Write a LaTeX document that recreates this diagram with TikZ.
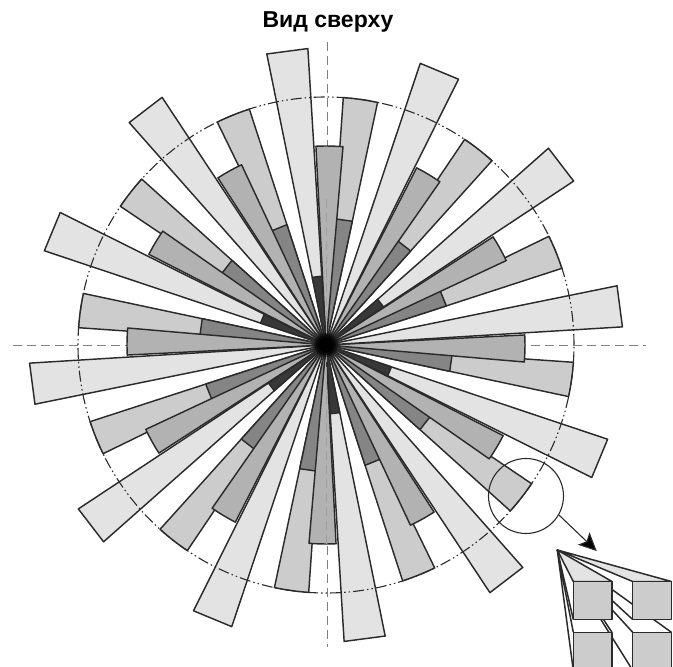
\documentclass[tikz,border=0pt]{standalone}
\usepackage{fontspec}
\setmainfont{Liberation Sans}
\usetikzlibrary{arrows.meta}
\definecolor{lightgr}{gray}{0.89}
\definecolor{midgr}{gray}{0.80}
\definecolor{shortgr}{gray}{0.70}
\definecolor{innergr}{gray}{0.52}
\definecolor{darkgr}{gray}{0.22}
\definecolor{edgegr}{gray}{0.17}
\begin{document}
\begin{tikzpicture}[x=1pt, y=1pt, blade/.style={draw=edgegr, line width=1.45pt, line join=round},
axis line/.style={draw=gray, line width=0.8pt, dash pattern=on 9pt off 5pt},
ring line/.style={draw=edgegr, line width=1.1pt, dash pattern=on 11pt off 3pt on 1.5pt off 3pt on 1.5pt off 3pt},
box side/.style={draw=edgegr, line width=1.5pt, line join=round},
main node/.style={circle, draw=edgegr, line width=1.1pt, minimum size=75pt, inner sep=0pt}]
\useasboundingbox (-326,-322) rectangle (347,345);
\clip (-326,-322) rectangle (347,345);
% axes go under the blades
\coordinate (west) at (-313,0);
\coordinate (east) at (320,0);
\coordinate (north) at (1,303);
\coordinate (south) at (1,-302);
\draw[axis line] (west) -- (east);
\draw[axis line] (north) -- (south);
% blades, 12 sets
\foreach \k in {0,...,11}{
  \pgfmathsetmacro{\am}{82-30*\k}
  \draw[blade, fill=midgr] (0,0) -- (\am-4:248) arc (\am-4:\am+4:248) -- cycle;
  \draw[blade, fill=innergr] (0,0) -- (\am-4:126.5) -- (\am+4:126.5) -- cycle;
}
\foreach \k in {0,...,11}{
  \pgfmathsetmacro{\as}{89-30*\k}
  \draw[blade, fill=shortgr] (0,0) -- (\as-3.9:199) arc (\as-3.9:\as+3.9:199) -- cycle;
}
\foreach \k in {0,...,11}{
  \pgfmathsetmacro{\al}{97.5-30*\k}
  \draw[blade, fill=lightgr] (0,0) -- (\al-4:297) -- (\al+4:297) -- cycle;
}
\foreach \k in {0,2,...,10}{
  \pgfmathsetmacro{\al}{97.5-30*\k}
  \draw[blade, fill=darkgr] (0,0) -- (\al-4:69) -- (\al+4:69) -- cycle;
}
% vertical axis shows faintly over the middle blades
\draw[draw=gray!75, line width=0.8pt, dash pattern=on 9pt off 5pt] (0.7,146) -- (0.7,-200);
\draw[ring line] (0,0) circle (248);
\fill[black, opacity=0.45] (0,0) circle (12);
\fill[black, opacity=0.6] (0,0) circle (10);
\fill[black] (0,0) circle (7.5);
\node[font=\bfseries\fontsize{23}{26}\selectfont] (title) at (2,323) {Вид сверху};
% lens and arrow
\node[main node] (lens) at (200,-151) {};
\coordinate (tip) at (270.7,-206);
\draw[line width=1.1pt, draw=edgegr, -{Stealth[length=18pt, width=17pt, inset=4pt, fill=black]}] (lens.-30) -- (tip);
% boxes seen from one point
\coordinate (apex) at (231.3,-205);
\foreach \x/\y in {247.3/-287.3, 306.7/-287.3}{
  \draw[box side] (\x,\y-38) -- (apex) -- (\x,\y) (apex) -- (\x+38.7,\y);
}
\foreach \x/\y in {306.7/-236.5, 247.3/-236.5}{
  \draw[box side, fill=lightgr] (apex) -- (\x,\y) -- (\x+38.7,\y) -- cycle;
  \draw[box side] (apex) -- (\x,\y-38);
}
\foreach \x/\y in {247.3/-287.3, 306.7/-287.3, 247.3/-236.5, 306.7/-236.5}{
  \draw[box side, fill=midgr] (\x,\y) rectangle (\x+38.7,\y-38);
}
\end{tikzpicture}
\end{document}
